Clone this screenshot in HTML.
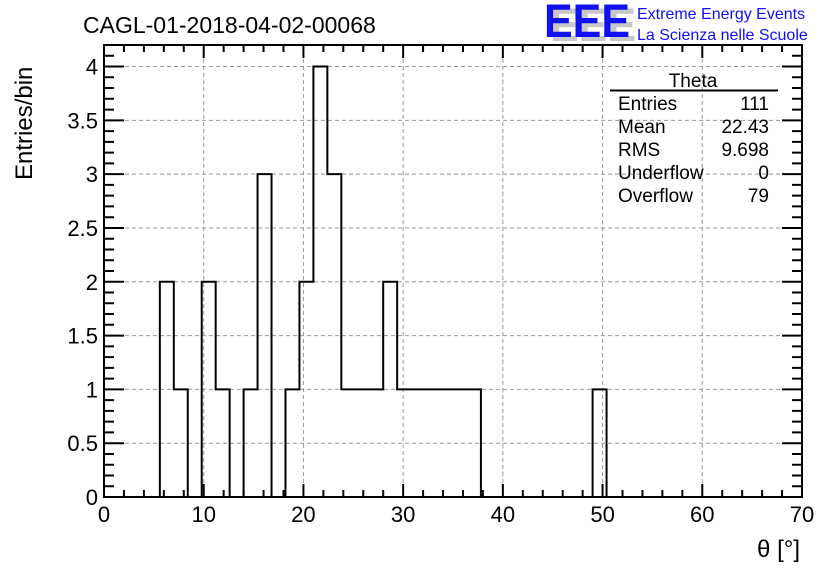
<!DOCTYPE html>
<html><head><meta charset="utf-8"><style>
body{margin:0;background:#fff;width:836px;height:572px;overflow:hidden}
svg{font-family:"Liberation Sans",sans-serif}
</style></head><body>
<svg id="c" width="836" height="572" viewBox="0 0 836 572">
<text x="83" y="33" font-size="23">CAGL-01-2018-04-02-00068</text>
<g>
<text x="550" y="41" font-size="47" fill="#c8c8c8" font-weight="bold" textLength="86" lengthAdjust="spacingAndGlyphs">EEE</text>
<text x="544" y="37" font-size="47" fill="#1010f0" font-weight="bold" textLength="86" lengthAdjust="spacingAndGlyphs">EEE</text>
<text x="637" y="19" font-size="16" fill="#1010f0">Extreme Energy Events</text>
<text x="637" y="40" font-size="16" fill="#1010f0">La Scienza nelle Scuole</text>
</g>
<g id="grid"></g>
<g id="axes"></g>
<path id="hist" fill="none" stroke="#000" stroke-width="2"/>
<g font-size="19">
<text x="693" y="87" text-anchor="middle">Theta</text>
<line x1="610" y1="90.5" x2="778" y2="90.5" stroke="#000" stroke-width="2"/>
<text x="618" y="110">Entries</text><text x="769" y="110" text-anchor="end">111</text>
<text x="618" y="133">Mean</text><text x="769" y="133" text-anchor="end">22.43</text>
<text x="618" y="156">RMS</text><text x="769" y="156" text-anchor="end">9.698</text>
<text x="618" y="179">Underflow</text><text x="769" y="179" text-anchor="end">0</text>
<text x="618" y="202">Overflow</text><text x="769" y="202" text-anchor="end">79</text>
</g>
<text transform="translate(32,180) rotate(-90)" font-size="24">Entries/bin</text>
<text x="800" y="557" font-size="24" text-anchor="end">θ [°]</text>
</svg>
<script>
const binWidth = 1.4;
const counts = [0,0,0,0,2,1,0,2,1,0,1,3,0,1,2,4,3,1,1,1,2,1,1,1,1,1,1,0,0,0,0,0,0,0,0,1,0,0,0,0,0,0,0,0,0,0,0,0,0,0];
const xTicks = [0,10,20,30,40,50,60,70];
const yTicks = [0,0.5,1,1.5,2,2.5,3,3.5,4];
const yTickLabels = ["0","0.5","1","1.5","2","2.5","3","3.5","4"];
const X0=104,X1=802,Y0=497,Y1=45,xmax=70,ymax=4.2;
const sx=v=>X0+(X1-X0)*v/xmax, sy=v=>Y0-(Y0-Y1)*v/ymax;
const NS="http://www.w3.org/2000/svg";
function mk(t,a,p){const e=document.createElementNS(NS,t);for(const k in a)e.setAttribute(k,a[k]);p.appendChild(e);return e;}
const grid=document.getElementById('grid'),axes=document.getElementById('axes');
xTicks.forEach(v=>{if(v>0&&v<xmax){const l=mk('line',{x1:sx(v),x2:sx(v),y1:Y0,y2:Y1,stroke:'#999','stroke-dasharray':'4,3'},grid);

}});
yTicks.forEach(v=>{if(v>0){const l=mk('line',{x1:X0,x2:X1,y1:sy(v),y2:sy(v),stroke:'#999','stroke-dasharray':'4,3'},grid);

}});
let d='';
for(let v=0;v<=xmax+1e-9;v+=2){const maj=Math.abs(v%10)<1e-6;const L=maj?13:7;
d+=`M${sx(v)},${Y0}v${-L}M${sx(v)},${Y1}v${L}`;}
for(let i=0;i<=42;i++){const v=i*0.1;const maj=i%5==0;const L=maj?20:10;
d+=`M${X0},${sy(v)}h${L}M${X1},${sy(v)}h${-L}`;}
const tk=mk('path',{d:d,stroke:'#000','stroke-width':2,fill:'none'},axes);


const fr=mk('rect',{x:X0,y:Y1,width:X1-X0,height:Y0-Y1,fill:'none',stroke:'#000','stroke-width':2},axes);


xTicks.forEach(v=>{const t=mk('text',{x:sx(v),y:522,'font-size':22,'text-anchor':'middle'},axes);t.textContent=v;

});
yTicks.forEach((v,i)=>{const t=mk('text',{x:98,y:sy(v)+8,'font-size':22,'text-anchor':'end'},axes);t.textContent=yTickLabels[i];

});
let p=`M${sx(0)},${sy(0)}`;
counts.forEach((c,i)=>{p+=`V${sy(c)}H${sx((i+1)*binWidth)}`;});
p+=`V${sy(0)}`;
document.getElementById('hist').setAttribute('d',p);
</script>
</body></html>
